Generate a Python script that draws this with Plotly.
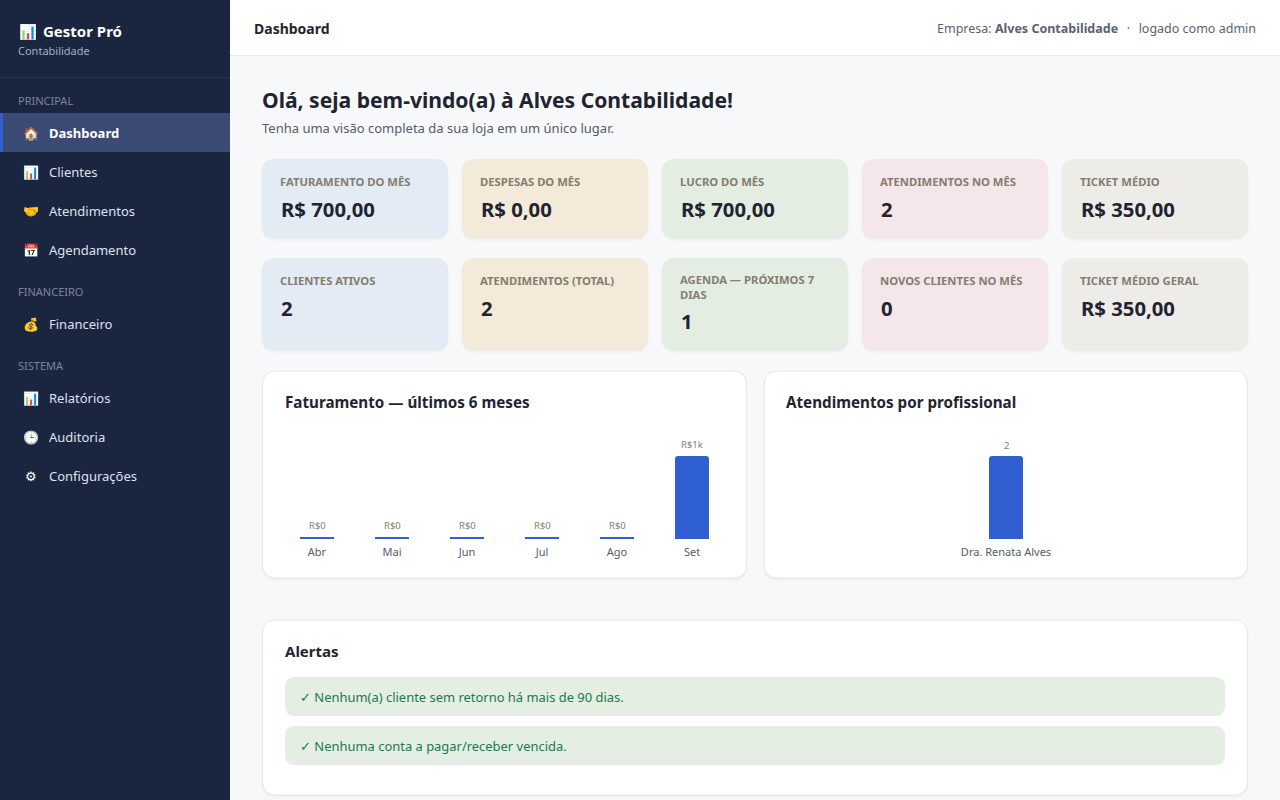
import plotly.graph_objects as go

W, H = 1280, 800
FONT = "Noto Sans"

months = ["Abr", "Mai", "Jun", "Jul", "Ago", "Set"]
faturamento = [0, 0, 0, 0, 0, 700]
faturamento_labels = ["R$0", "R$0", "R$0", "R$0", "R$0", "R$1k"]
profissionais = ["Dra. Renata Alves"]
atendimentos = [2]
atendimentos_labels = ["2"]

row1_labels = ["FATURAMENTO DO MÊS", "DESPESAS DO MÊS", "LUCRO DO MÊS", "ATENDIMENTOS NO MÊS", "TICKET MÉDIO"]
row1_values = ["R$ 700,00", "R$ 0,00", "R$ 700,00", "2", "R$ 350,00"]
row2_labels = ["CLIENTES ATIVOS", "ATENDIMENTOS (TOTAL)", "AGENDA — PRÓXIMOS 7<br>DIAS", "NOVOS CLIENTES NO MÊS", "TICKET MÉDIO GERAL"]
row2_values = ["2", "2", "1", "0", "R$ 350,00"]
card_colors = ["#e3ebf5", "#f3ead9", "#e4ede1", "#f5e6e9", "#eeece8"]
card_x = [262, 462, 662, 862, 1062]

nav_sections = [("PRINCIPAL", 100.5), ("FINANCEIRO", 291.5), ("SISTEMA", 365.5)]
nav_items = [
    ("🏠", "Dashboard", 133),
    ("📊", "Clientes", 172),
    ("🤝", "Atendimentos", 211),
    ("📅", "Agendamento", 250),
    ("💰", "Financeiro", 324),
    ("📊", "Relatórios", 398),
    ("🕒", "Auditoria", 437),
    ("⚙", "Configurações", 476),
]
alerts = ["✓ Nenhum(a) cliente sem retorno há mais de 90 dias.", "✓ Nenhuma conta a pagar/receber vencida."]

shapes = []
notes = []


def px(x):
    return x / W


def py(y):
    return 1 - y / H


def rect(x0, y0, x1, y1, fill, r=0, line=None, opacity=1):
    # rounded rect in page pixels, drawn on paper coords
    p = (f"M{px(x0 + r)},{py(y0)} L{px(x1 - r)},{py(y0)} Q{px(x1)},{py(y0)} {px(x1)},{py(y0 + r)} "
         f"L{px(x1)},{py(y1 - r)} Q{px(x1)},{py(y1)} {px(x1 - r)},{py(y1)} "
         f"L{px(x0 + r)},{py(y1)} Q{px(x0)},{py(y1)} {px(x0)},{py(y1 - r)} "
         f"L{px(x0)},{py(y0 + r)} Q{px(x0)},{py(y0)} {px(x0 + r)},{py(y0)} Z")
    shapes.append(dict(type="path", xref="paper", yref="paper", path=p, fillcolor=fill, opacity=opacity,
                       line=dict(color=line or fill, width=1 if line else 0), layer="below"))


def text(x, y, s, size, color, bold=False, anchor="left"):
    # annotations carry 2px of padding, so pull them back to the real text edge
    dx = {"left": -2, "right": 2, "center": 0}[anchor]
    notes.append(dict(x=px(x + dx), y=py(y), xref="paper", yref="paper", text=s, showarrow=False,
                      xanchor=anchor, yanchor="middle", align="left",
                      font=dict(family=FONT, size=size, color=color, weight=700 if bold else 400)))


def card(x0, y0, x1, y1, fill, r=14, line=None):
    rect(x0 - 1, y0, x1 + 1, y1 + 3, "#000000", r + 1, opacity=0.025)
    rect(x0, y0, x1, y1 + 1, "#000000", r, opacity=0.03)
    rect(x0, y0, x1, y1, fill, r, line)


def bar_label(axis_x, axis_y, x, v, label):
    # short bars keep a 2px stub in the reference, so their label sits a little higher
    notes.append(dict(x=x, y=v, xref=axis_x, yref=axis_y, text=label, showarrow=False,
                      yanchor="middle", yshift=14 if v == 0 else 11,
                      font=dict(family=FONT, size=9.5, color="#857d6e")))


# page
rect(0, 0, W, H, "#f7f8fa")
rect(230, 0, W, 55, "#ffffff")
rect(230, 55, W, 56, "#e5e7eb")

# sidebar
rect(0, 0, 230, H, "#1a2540")
rect(0, 77, 230, 78, "#29344f")
rect(0, 113, 230, 152, "#3a4a75")
rect(0, 113, 3, 152, "#2f5fd0")
text(19, 31, "📊", 14.5, "#ffffff")
text(43, 31, "Gestor Pró", 15, "#ffffff", bold=True)
text(18, 51, "Contabilidade", 11, "#a3adc2")
for name, y in nav_sections:
    text(18, y, name, 11, "#7a849c")
for icon, name, y in nav_items:
    text(30.5, y, icon, 13, "#ffffff", anchor="center")
    text(49, y, name, 13, "#ffffff" if name == "Dashboard" else "#dde2ec", bold=name == "Dashboard")

# header
text(254, 28, "Dashboard", 14, "#1f2430", bold=True)
text(1256, 28, "Empresa: <b>Alves Contabilidade</b>\u00a0\u00a0\u2009·\u00a0\u00a0\u2009logado como admin", 12.5, "#5b6270", anchor="right")
text(262, 99.5, "Olá, seja bem-vindo(a) à Alves Contabilidade!", 21.1, "#1f2430", bold=True)
text(262, 128, "Tenha uma visão completa da sua loja em um único lugar.", 13, "#555c68")

# kpi cards
for x, lab, val, col in zip(card_x, row1_labels, row1_values, card_colors):
    card(x, 159, x + 186, 238, col)
    text(x + 17.5, 181, lab, 11.25, "#857d6e", bold=True)
    text(x + 18.5, 208.5, val, 20.3, "#1f2430", bold=True)
for x, lab, val, col in zip(card_x, row2_labels, row2_values, card_colors):
    card(x, 258, x + 186, 350, col)
    wrapped = "<br>" in lab
    text(x + 17.5, 286.5 if wrapped else 280, lab, 11.25, "#857d6e", bold=True)
    text(x + 18.5, 321 if wrapped else 308, val, 20.3, "#1f2430", bold=True)

# chart panels
card(262.5, 371, 746.5, 578, "#ffffff", r=14, line="#e6e8ec")
card(764, 371, 1247.5, 578, "#ffffff", r=14, line="#e6e8ec")
text(285, 402, "Faturamento — últimos 6 meses", 15.2, "#1f2430", bold=True)
text(786, 402, "Atendimentos por profissional", 15.2, "#1f2430", bold=True)

# alerts
card(262.5, 620, 1247.5, 795, "#ffffff", r=14, line="#e6e8ec")
text(285, 651, "Alertas", 15, "#1f2430", bold=True)
for s, (y0, y1) in zip(alerts, [(677, 716), (726, 765)]):
    rect(285, y0, 1225, y1, "#e5eee2", 10)
    text(300, (y0 + y1) / 2 + 0.5, s, 12.95, "#1a7a4c")

fig = go.Figure()
BAR_PX = 34
fig.add_trace(go.Bar(
    x=months, y=faturamento, xaxis="x", yaxis="y",
    cliponaxis=True, width=BAR_PX / 75,
    marker=dict(color="#2f5fd0", line=dict(color="#2f5fd0", width=[4 if v == 0 else 0 for v in faturamento])),
    hoverinfo="skip",
))
fig.add_trace(go.Bar(
    x=profissionais, y=atendimentos, xaxis="x2", yaxis="y2",
    width=BAR_PX / 440,
    marker=dict(color="#2f5fd0", line=dict(width=0)),
    hoverinfo="skip",
))
for m, v, lab in zip(months, faturamento, faturamento_labels):
    bar_label("x", "y", m, v, lab)
for p, v, lab in zip(profissionais, atendimentos, atendimentos_labels):
    bar_label("x2", "y2", p, v, lab)

tick_font = dict(family=FONT, size=11, color="#555c68")
axis_common = dict(showgrid=False, zeroline=False, showline=False, ticks="", tickfont=tick_font,
                   fixedrange=True, ticklabelstandoff=5)
hidden_y = dict(showgrid=False, zeroline=False, showline=False, showticklabels=False, fixedrange=True)
fig.update_layout(
    width=W, height=H, margin=dict(l=0, r=0, t=0, b=0),
    paper_bgcolor="#f7f8fa", plot_bgcolor="rgba(0,0,0,0)",
    showlegend=False, barcornerradius=3,
    shapes=shapes, annotations=notes,
    xaxis=dict(domain=[px(279.5), px(729.5)], anchor="y", **axis_common),
    yaxis=dict(domain=[py(539), py(425)], anchor="x", range=[0, 961], **hidden_y),
    xaxis2=dict(domain=[px(786), px(1226)], anchor="y2", **axis_common),
    yaxis2=dict(domain=[py(539), py(425)], anchor="x2", range=[0, 2.747], **hidden_y),
)

# page margin off, and plain browser text rendering instead of plotly's geometricPrecision
css = ("document.body.style.margin='0';document.body.style.overflow='hidden';"
       "var s=document.createElement('style');"
       "s.textContent='svg,svg text{text-rendering:auto!important}';"
       "document.head.appendChild(s);")
fig.write_html("out.html", config={"displayModeBar": False}, post_script=css)
